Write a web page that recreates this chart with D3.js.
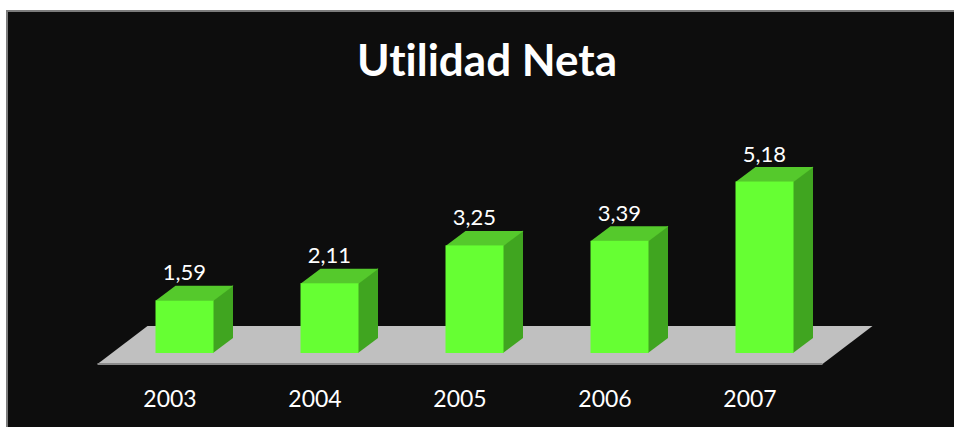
<!DOCTYPE html>
<html lang="es">

<head>
  <meta charset="utf-8">
  <title>Utilidad Neta</title>
  <script src="https://cdn.jsdelivr.net/npm/d3@7"></script>
  <style>
    body { margin: 0; background: #fff; }
    text { font-family: Lato, "Open Sans", sans-serif; fill: #fff; font-variant-ligatures: none; }
  </style>
</head>

<body>
  <div id="chart"></div>

  <script>
    const years = ['2003', '2004', '2005', '2006', '2007']
    const values = [1.59, 2.11, 3.25, 3.39, 5.18]
    const labels = ['1,59', '2,11', '3,25', '3,39', '5,18']

    const width = 954, height = 427
    const base = 353            // bar front bottom
    const dx = 20, dy = 15      // bar depth
    const floorFront = 11, floorBack = 12  // floor margin in y around bar depth
    const slope = 50 / 38

    const svg = d3.select('#chart').append('svg')
      .attr('width', width)
      .attr('height', height)

    // panel
    svg.append('rect')
      .attr('x', 7).attr('y', 11)
      .attr('width', width + 10).attr('height', height + 10)
      .attr('fill', '#0d0d0d')
      .attr('stroke', '#7c7c7c')
      .attr('stroke-width', 2)

    const x = d3.scaleBand()
      .domain(years)
      .range([112, 837])
      .paddingInner(0.6)
      .paddingOuter(0.3)

    const y = d3.scaleLinear()
      .domain([0, 6])
      .range([base, base - 6 * 33.1])

    // floor
    const fl = x.range()[0], fr = x.range()[1]
    const yF = base + floorFront, yB = base - dy - floorBack
    const sF = floorFront * slope, sB = (dy + floorBack) * slope
    svg.append('polygon')
      .attr('points', [[fl - sF, yF], [fl + sB, yB], [fr + sB, yB], [fr - sF, yF]].join(' '))
      .attr('fill', '#c0c0c0')
    svg.append('polygon')
      .attr('points', [[fl - sF, yF - 1], [fr - sF, yF - 1], [fr - sF, yF + 1], [fl - sF, yF + 1]].join(' '))
      .attr('fill', '#8a8a8a')

    const bars = svg.selectAll('.bar')
      .data(years)
      .join('g')
      .attr('class', 'bar')

    const bw = x.bandwidth()

    // side
    bars.append('polygon')
      .attr('points', (d, i) => {
        const x0 = x(d) + bw - 0.5, t = y(values[i])
        return [[x0, t], [x0 + dx, t - dy], [x0 + dx, base - dy], [x0, base]].join(' ')
      })
      .attr('fill', '#40a520')

    // top
    bars.append('polygon')
      .attr('points', (d, i) => {
        const x0 = x(d), t = y(values[i]) + 0.5
        return [[x0, t], [x0 + dx, t - dy], [x0 + bw + dx, t - dy], [x0 + bw, t]].join(' ')
      })
      .attr('fill', '#55c92c')

    // front
    bars.append('rect')
      .attr('x', d => x(d))
      .attr('y', (d, i) => y(values[i]))
      .attr('width', bw)
      .attr('height', (d, i) => base - y(values[i]))
      .attr('fill', '#66ff33')

    // value labels
    bars.append('text')
      .attr('x', d => x(d) + bw / 2)
      .attr('y', (d, i) => y(values[i]) - dy - 5)
      .attr('text-anchor', 'middle')
      .attr('font-size', 22)
      .text((d, i) => labels[i])

    // category labels
    svg.selectAll('.cat')
      .data(years)
      .join('text')
      .attr('class', 'cat')
      .attr('x', d => x(d) + bw / 2 - sF)
      .attr('y', 407)
      .attr('text-anchor', 'middle')
      .attr('font-size', 23)
      .text(d => d)

    svg.append('text')
      .attr('x', 487)
      .attr('y', 76)
      .attr('text-anchor', 'middle')
      .attr('font-size', 44)
      .attr('font-weight', 'bold')
      .attr('textLength', 260)
      .attr('lengthAdjust', 'spacingAndGlyphs')
      .text('Utilidad Neta')
  </script>
</body>

</html>
